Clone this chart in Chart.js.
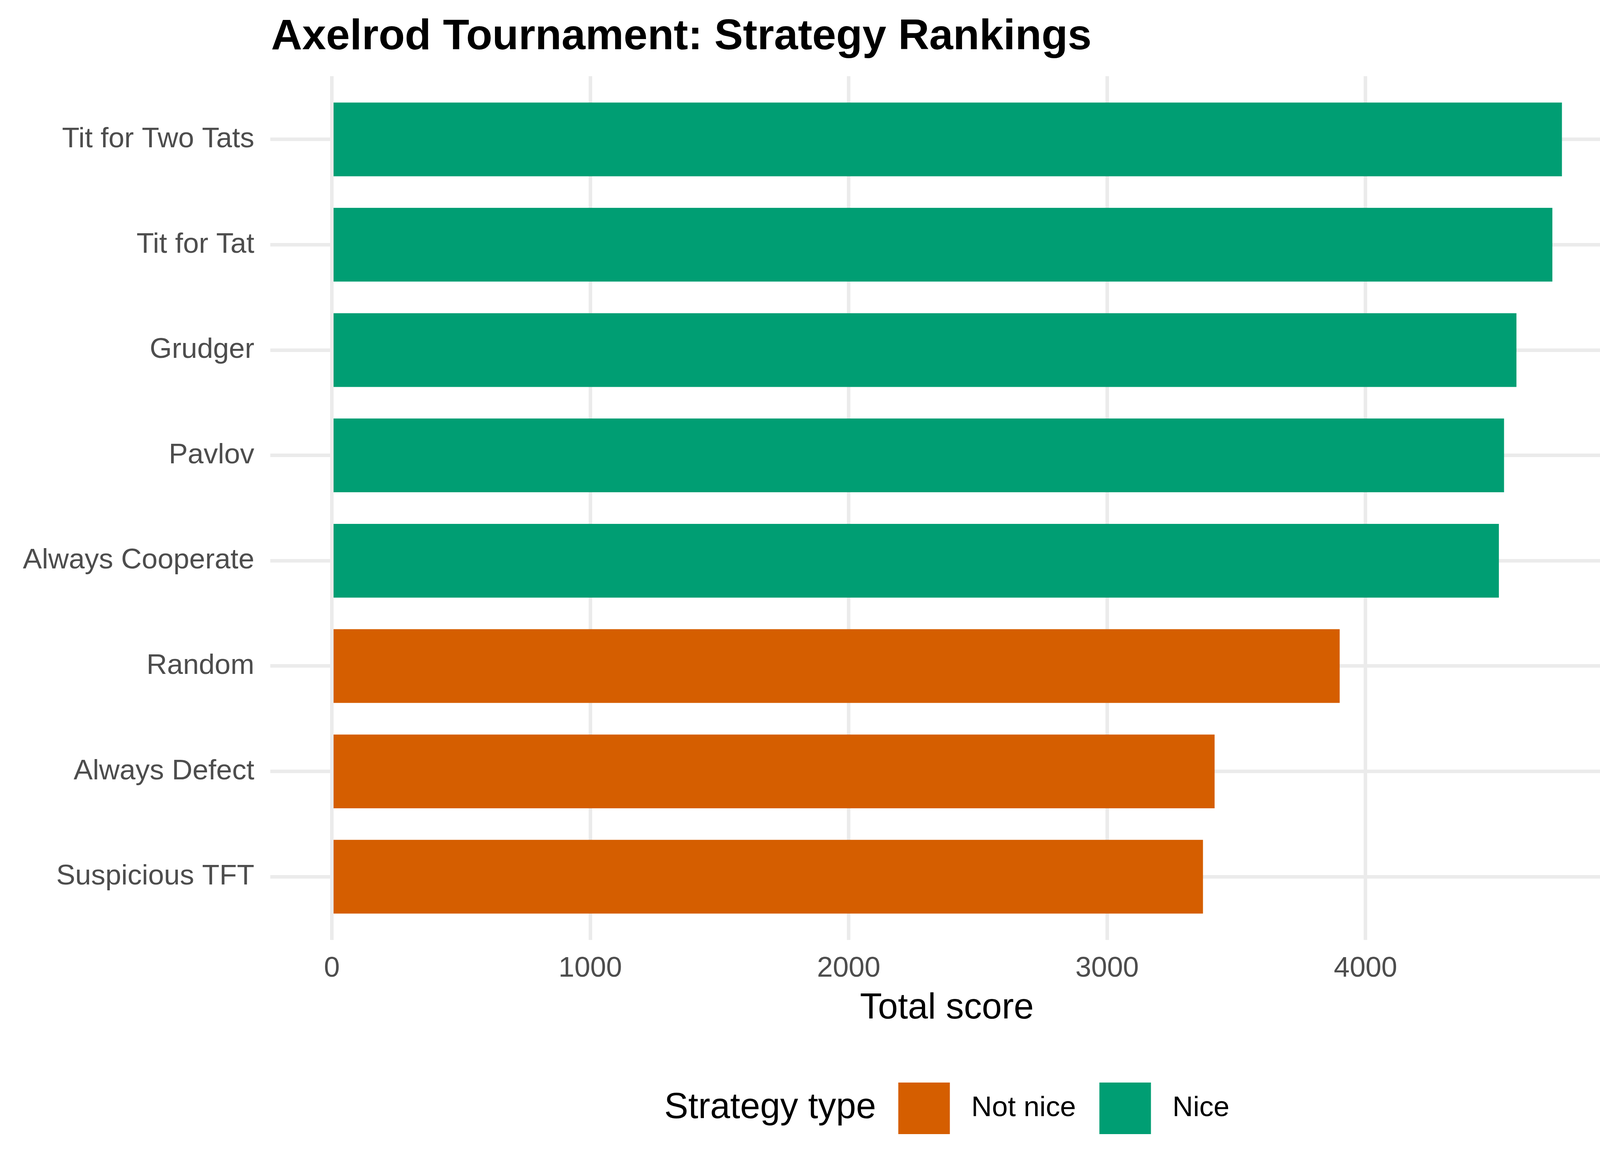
<!DOCTYPE html>
<html>
<head>
<meta charset="utf-8">
<script src="https://cdn.jsdelivr.net/npm/chart.js@4.4.1/dist/chart.umd.min.js"></script>
<style>
  html, body { margin: 0; padding: 0; background: #ffffff; }
  #chart { display: block; }
</style>
</head>
<body>
<canvas id="chart" width="4200" height="3000"></canvas>
<script>
// data, top to bottom as in the ranking
const strategies = ['Tit for Two Tats', 'Tit for Tat', 'Grudger', 'Pavlov',
                    'Always Cooperate', 'Random', 'Always Defect', 'Suspicious TFT'];
const scores = [4760, 4723, 4584, 4536, 4516, 3900, 3416, 3371];
const strategyTypes = ['Nice', 'Nice', 'Nice', 'Nice', 'Nice', 'Not nice', 'Not nice', 'Not nice'];
const typeNames = ['Not nice', 'Nice'];
const typeColors = ['#D55E00', '#009E73'];
const xTicks = [0, 1000, 2000, 3000, 4000];

const chartTitle = 'Axelrod Tournament: Strategy Rankings';
const xAxisTitle = 'Total score';
const legendTitle = 'Strategy type';

const FONT = "'Liberation Sans', Arial, sans-serif";
Chart.defaults.font.family = FONT;

// ggplot style 5% expansion on the continuous axis, 0.6 on the discrete one
const maxScore = Math.max(...scores);
const xPad = maxScore * 0.05;

// title and the inline legend at the bottom
const decorations = {
    id: 'decorations',
    afterDraw(chart) {
        const ctx = chart.ctx;
        const area = chart.chartArea;
        ctx.save();

        ctx.fillStyle = '#000000';
        ctx.font = 'bold 110px ' + FONT;
        ctx.textAlign = 'left';
        ctx.textBaseline = 'alphabetic';
        ctx.fillText(chartTitle, area.left + 2, 126);

        const cy = 2837;
        const key = 132;
        ctx.font = '92px ' + FONT;
        const titleW = ctx.measureText(legendTitle).width;
        ctx.font = '73px ' + FONT;
        const labelW = typeNames.map(t => ctx.measureText(t).width);
        const total = titleW + 57 + typeNames.reduce((s, t, i) => s + key + 55 + labelW[i], 0) + 60 * (typeNames.length - 1);
        let x = (area.left + area.right) / 2 - total / 2;

        ctx.textBaseline = 'middle';
        ctx.font = '92px ' + FONT;
        ctx.fillText(legendTitle, x, cy);
        x += titleW + 57;
        ctx.font = '73px ' + FONT;
        typeNames.forEach((t, i) => {
            ctx.fillStyle = typeColors[i];
            ctx.fillRect(x, cy - key / 2, key, key);
            x += key + 55;
            ctx.fillStyle = '#000000';
            ctx.fillText(t, x, cy);
            x += labelW[i] + 60;
        });
        ctx.restore();
    }
};

const ctx = document.getElementById('chart');

const data = {
    datasets: [{
        label: 'Total score',
        data: scores.map((s, i) => ({x: s, y: i})),
        backgroundColor: strategyTypes.map(t => typeColors[typeNames.indexOf(t)]),
        borderWidth: 0,
        barPercentage: 0.7,
        categoryPercentage: 1.0
    }]
};

const config = {
    type: 'bar',
    data: data,
    options: {
        indexAxis: 'y',
        responsive: false,
        animation: false,
        devicePixelRatio: 1,
        layout: {
            padding: {top: 195, right: 44, bottom: 0, left: 0}
        },
        plugins: {
            legend: {display: false},
            title: {display: false},
            tooltip: {enabled: false}
        },
        scales: {
            x: {
                type: 'linear',
                min: -xPad,
                max: maxScore + xPad,
                afterBuildTicks: (scale) => {
                    scale.ticks = xTicks.map(v => ({value: v}));
                },
                afterFit: (scale) => { scale.height = 594; },
                grid: {color: '#EBEBEB', lineWidth: 9, drawTicks: false},
                border: {display: false},
                ticks: {
                    color: '#4D4D4D',
                    font: {size: 73},
                    padding: 30,
                    maxRotation: 0,
                    callback: (value) => String(value)
                },
                title: {
                    display: true,
                    text: xAxisTitle,
                    color: '#000000',
                    font: {size: 92},
                    padding: {top: 0, bottom: 363}
                }
            },
            y: {
                type: 'linear',
                reverse: true,
                offset: false,
                min: -0.6,
                max: strategies.length - 1 + 0.6,
                afterBuildTicks: (scale) => {
                    scale.ticks = strategies.map((_, i) => ({value: i}));
                },
                afterFit: (scale) => { scale.width = 692; },
                grid: {color: '#EBEBEB', lineWidth: 9, drawTicks: false, offset: false},
                border: {display: false},
                ticks: {
                    color: '#4D4D4D',
                    font: {size: 73},
                    padding: 41,
                    autoSkip: false,
                    callback: (value) => strategies[value]
                }
            }
        }
    },
    plugins: [decorations]
};

let chart = new Chart(ctx, config);
</script>
</body>
</html>
